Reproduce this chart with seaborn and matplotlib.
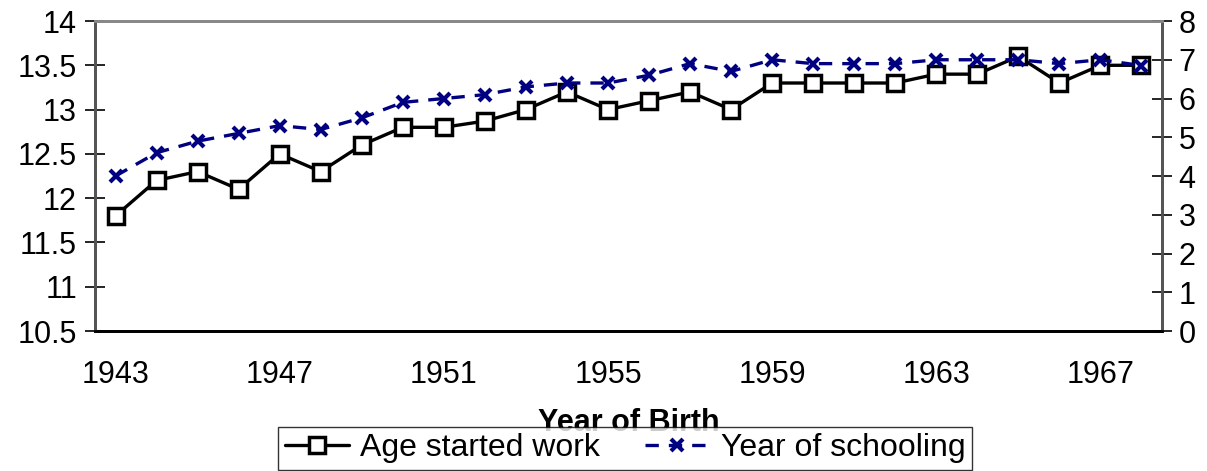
import numpy as np
import matplotlib
matplotlib.use("Agg")
import matplotlib.pyplot as plt
import seaborn as sns

# datos
anios = list(range(1943, 1969))
edad_trabajo = [11.8, 12.2, 12.3, 12.1, 12.5, 12.3, 12.6, 12.8, 12.8, 12.87,
                13.0, 13.2, 13.0, 13.1, 13.2, 13.0, 13.3, 13.3, 13.3, 13.3,
                13.4, 13.4, 13.6, 13.3, 13.5, 13.5]
anios_escuela = [4.0, 4.6, 4.9, 5.1, 5.3, 5.2, 5.5, 5.9, 6.0, 6.1,
                 6.3, 6.4, 6.4, 6.6, 6.9, 6.7, 7.0, 6.9, 6.9, 6.9,
                 7.0, 7.0, 7.0, 6.9, 7.0, 6.85]
etiquetas_x = [str(a) for a in anios]

sns.set_style("white")
plt.rcParams['font.family'] = ['Liberation Sans', 'DejaVu Sans']
plt.rcParams['text.color'] = 'black'
plt.rcParams['axes.labelcolor'] = 'black'
plt.rcParams['xtick.color'] = 'black'
plt.rcParams['ytick.color'] = 'black'

fig = plt.figure(figsize=(12.07, 4.71), dpi=100)
ax = fig.add_axes([0.0787, 0.2972, 0.8840, 0.6582])
ax2 = ax.twinx()

pos = np.arange(len(anios))
sns.lineplot(x=pos, y=edad_trabajo, ax=ax, color='black', lw=2.4,
             marker='s', markersize=11.5, markerfacecolor='white',
             markeredgecolor='black', markeredgewidth=2.5,
             label='Age started work', legend=False, zorder=3)
sns.lineplot(x=pos, y=anios_escuela, ax=ax2, color='#000080', lw=2.4,
             linestyle=(0, (4, 3)), marker='x', markersize=8,
             markeredgewidth=3, markeredgecolor='#000080',
             label='Year of schooling', legend=False, zorder=3)

ax.set_xlim(-0.5, len(anios) - 0.5)
ax.set_ylim(10.5, 14)
ax2.set_ylim(0, 8)
ax.set_yticks(np.arange(10.5, 14.01, 0.5))
ax.set_yticklabels(['10.5', '11', '11.5', '12', '12.5', '13', '13.5', '14'])
ax2.set_yticks(range(0, 9))

ax.set_xticks(pos[::4])
ax.set_xticklabels(etiquetas_x[::4])
ax.set_xticks(np.arange(-0.5, len(anios)), minor=True)
ax.tick_params(axis='x', which='major', length=0, pad=21, labelsize=22)
ax.tick_params(axis='x', which='minor', length=11, width=1.2, direction='inout')
ax.tick_params(axis='y', length=14, width=1.2, direction='inout', labelsize=22, pad=6)
ax2.tick_params(axis='y', length=14, width=1.2, direction='inout', labelsize=22, pad=5)

ax.set_xlabel('Year of Birth', fontsize=22, fontweight='bold', labelpad=13)
ax.set_ylabel('')
ax2.set_ylabel('')

for a in (ax, ax2):
    for s in a.spines.values():
        s.set_linewidth(2)
    a.spines['top'].set_color('#888888')
    a.spines['left'].set_color('#555555')
    a.spines['right'].set_color('#555555')
    a.spines['bottom'].set_color('black')

h1, l1 = ax.get_legend_handles_labels()
h2, l2 = ax2.get_legend_handles_labels()
leg = fig.legend(h1 + h2, l1 + l2, loc='upper center', bbox_to_anchor=(0.5179, 0.0934),
                 ncol=2, fontsize=23, frameon=True, fancybox=False,
                 edgecolor='black', borderpad=0.2, handlelength=2.0,
                 handletextpad=0.37, columnspacing=1.4, borderaxespad=0)
leg.get_frame().set_linewidth(1)
leg.set_zorder(10)

fig.savefig('out.png', dpi=100, facecolor='white')
